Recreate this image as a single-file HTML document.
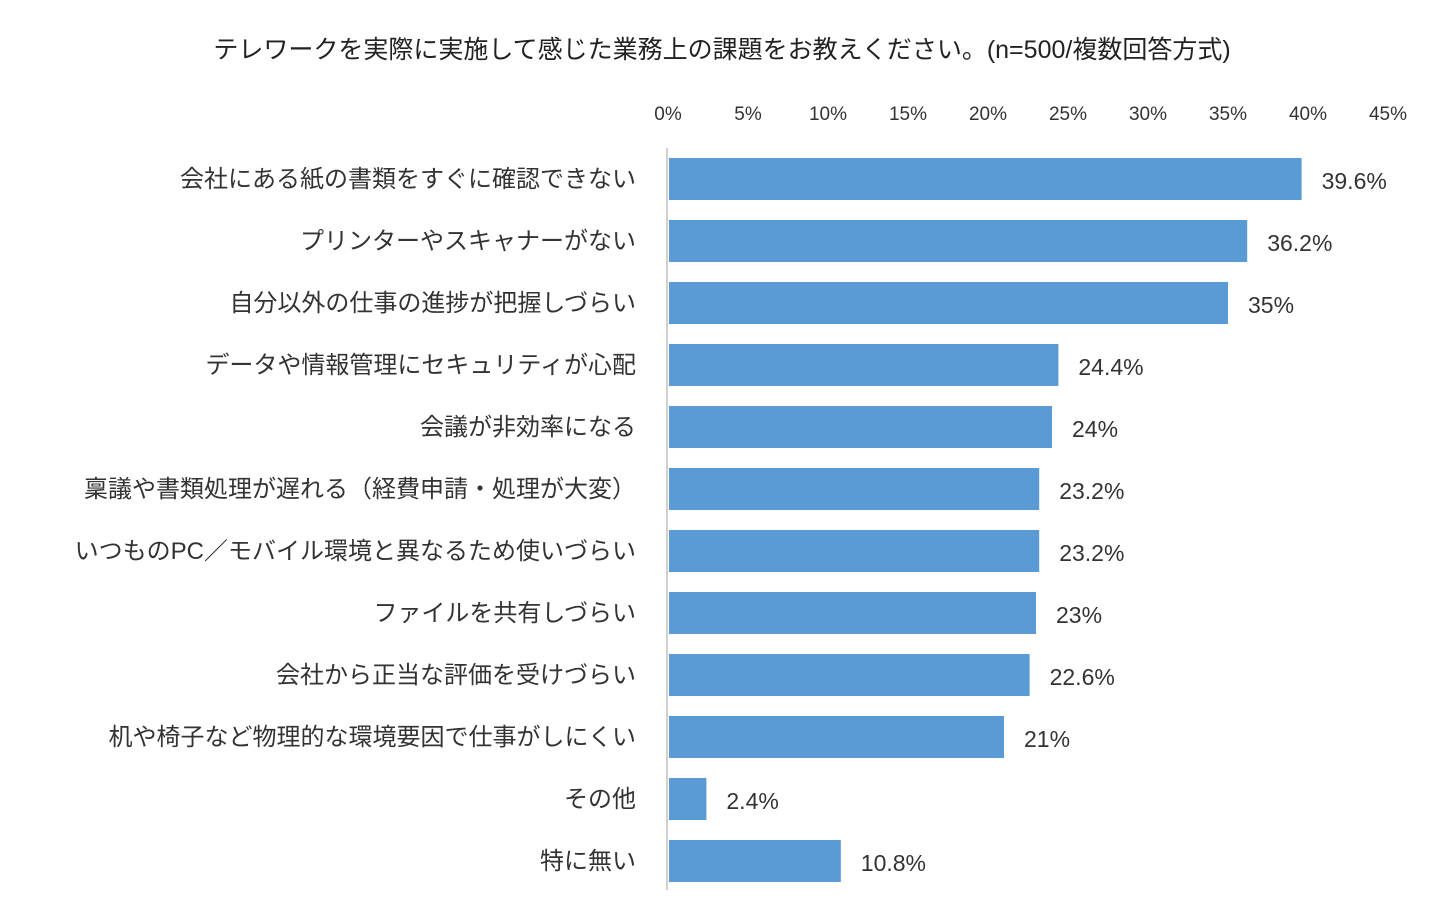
<!DOCTYPE html>
<html><head><meta charset="utf-8"><style>
body{margin:0;background:#fff;width:1440px;height:899px;overflow:hidden;font-family:"Liberation Sans","Noto Sans CJK JP",sans-serif;}
</style></head><body>
<svg id="chart" width="1440" height="899" xmlns="http://www.w3.org/2000/svg" font-family="'Liberation Sans','Noto Sans CJK JP',sans-serif">
<text x="722" y="58" text-anchor="middle" font-size="25" fill="#222">テレワークを実際に実施して感じた業務上の課題をお教えください。(n=500/複数回答方式)</text>
<line x1="667" y1="148" x2="667" y2="890" stroke="#d0d0d0" stroke-width="2"/>
<g id="ticks"></g><g id="bars"></g>
</svg>
<script>
const categories=["会社にある紙の書類をすぐに確認できない","プリンターやスキャナーがない","自分以外の仕事の進捗が把握しづらい","データや情報管理にセキュリティが心配","会議が非効率になる","稟議や書類処理が遅れる（経費申請・処理が大変）","いつものPC／モバイル環境と異なるため使いづらい","ファイルを共有しづらい","会社から正当な評価を受けづらい","机や椅子など物理的な環境要因で仕事がしにくい","その他","特に無い"];
const values=[39.6,36.2,35,24.4,24,23.2,23.2,23,22.6,21,2.4,10.8];
const valueLabels=["39.6%","36.2%","35%","24.4%","24%","23.2%","23.2%","23%","22.6%","21%","2.4%","10.8%"];
const ticks=[0,5,10,15,20,25,30,35,40,45];
const ns="http://www.w3.org/2000/svg";
const x=v=>668+v*16;
const y=i=>158+i*62;
const tg=document.getElementById("ticks"),bg=document.getElementById("bars");
ticks.forEach(t=>{const e=document.createElementNS(ns,"text");


e.setAttribute("x",x(t));e.setAttribute("y",120);e.setAttribute("text-anchor","middle");e.setAttribute("font-size","19");e.setAttribute("fill","#333");e.textContent=t+"%";tg.appendChild(e);});
categories.forEach((c,i)=>{
const l=document.createElementNS(ns,"text");


l.setAttribute("x",636);l.setAttribute("y",y(i)+29);l.setAttribute("text-anchor","end");l.setAttribute("font-size","24");l.setAttribute("fill","#333");l.textContent=c;bg.appendChild(l);
const r=document.createElementNS(ns,"rect");


r.setAttribute("x",669);r.setAttribute("y",y(i));r.setAttribute("width",x(values[i])-669);r.setAttribute("height",42);r.setAttribute("fill","#5b9bd5");bg.appendChild(r);
const v=document.createElementNS(ns,"text");


v.setAttribute("x",x(values[i])+20);v.setAttribute("y",y(i)+31);v.setAttribute("font-size","23");v.setAttribute("fill","#333");v.textContent=valueLabels[i];bg.appendChild(v);
});
</script>
</body></html>
